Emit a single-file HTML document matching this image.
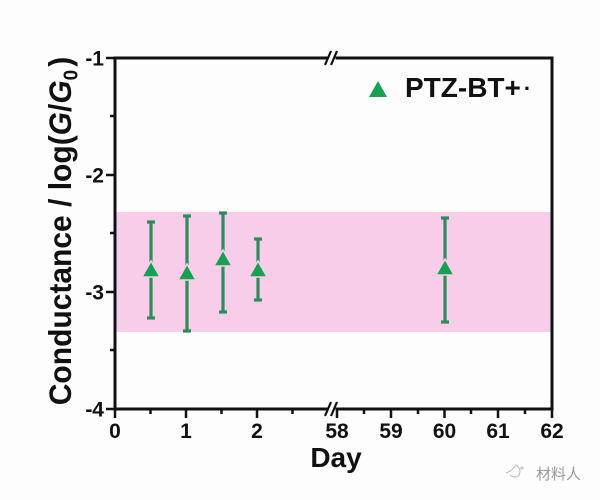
<!DOCTYPE html>
<html>
<head>
<meta charset="utf-8">
<style>
  html,body{margin:0;padding:0;background:#fefdfe;}
  svg{display:block;}
  .tl{font-family:"Liberation Sans",Arial,sans-serif;font-weight:bold;font-size:21px;fill:#111;}
</style>
</head>
<body>
<svg width="600" height="500" viewBox="0 0 600 500" xmlns="http://www.w3.org/2000/svg">
  <rect x="0" y="0" width="600" height="500" fill="#fefdfe"/>
  <!-- pink band -->
  <rect x="116" y="212" width="435" height="120" fill="#f7cdea"/>

  <!-- error bars -->
  <g stroke="#2e8b5a" stroke-width="3.2" fill="none">
    <line x1="151" y1="222" x2="151" y2="318"/><line x1="147" y1="222" x2="155" y2="222"/><line x1="147" y1="318" x2="155" y2="318"/>
    <line x1="187" y1="216" x2="187" y2="331"/><line x1="183" y1="216" x2="191" y2="216"/><line x1="183" y1="331" x2="191" y2="331"/>
    <line x1="223" y1="213" x2="223" y2="312"/><line x1="219" y1="213" x2="227" y2="213"/><line x1="219" y1="312" x2="227" y2="312"/>
    <line x1="258" y1="239" x2="258" y2="300"/><line x1="254" y1="239" x2="262" y2="239"/><line x1="254" y1="300" x2="262" y2="300"/>
    <line x1="445" y1="218" x2="445" y2="322"/><line x1="441" y1="218" x2="449" y2="218"/><line x1="441" y1="322" x2="449" y2="322"/>
  </g>
  <!-- triangles -->
  <g fill="#16a050" stroke="#f7cdea" stroke-width="1.5">
    <polygon points="151,261 160,277 142,277"/>
    <polygon points="187,264 196,280 178,280"/>
    <polygon points="223,250 232,266 214,266"/>
    <polygon points="258,261 267,277 249,277"/>
    <polygon points="445,259 454,275 436,275"/>
  </g>

  <!-- frame -->
  <g stroke="#111" stroke-width="3" fill="none" stroke-linecap="square">
    <line x1="115" y1="58" x2="115" y2="409"/>
    <line x1="552" y1="58" x2="552" y2="409"/>
    <line x1="115" y1="58" x2="327" y2="58"/>
    <line x1="337" y1="58" x2="552" y2="58"/>
    <line x1="115" y1="409" x2="327" y2="409"/>
    <line x1="337" y1="409" x2="552" y2="409"/>
  </g>
  <!-- break marks -->
  <g stroke="#111" stroke-width="2.2">
    <line x1="325" y1="65" x2="331" y2="51"/>
    <line x1="331" y1="65" x2="337" y2="51"/>
    <line x1="325" y1="416" x2="331" y2="402"/>
    <line x1="331" y1="416" x2="337" y2="402"/>
  </g>

  <!-- y ticks -->
  <g stroke="#111" stroke-width="2.5">
    <line x1="106" y1="58" x2="115" y2="58"/>
    <line x1="106" y1="175" x2="115" y2="175"/>
    <line x1="106" y1="292" x2="115" y2="292"/>
    <line x1="106" y1="409" x2="115" y2="409"/>
    <line x1="110" y1="116" x2="115" y2="116"/>
    <line x1="110" y1="233" x2="115" y2="233"/>
    <line x1="110" y1="350" x2="115" y2="350"/>
  </g>
  <!-- x ticks -->
  <g stroke="#111" stroke-width="2.5">
    <line x1="115" y1="409" x2="115" y2="418"/>
    <line x1="186" y1="409" x2="186" y2="418"/>
    <line x1="257" y1="409" x2="257" y2="418"/>
    <line x1="337" y1="409" x2="337" y2="418"/>
    <line x1="391" y1="409" x2="391" y2="418"/>
    <line x1="444.5" y1="409" x2="444.5" y2="418"/>
    <line x1="498" y1="409" x2="498" y2="418"/>
    <line x1="552" y1="409" x2="552" y2="418"/>
    <line x1="150.5" y1="409" x2="150.5" y2="414"/>
    <line x1="221.5" y1="409" x2="221.5" y2="414"/>
    <line x1="292.5" y1="409" x2="292.5" y2="414"/>
    <line x1="364" y1="409" x2="364" y2="414"/>
    <line x1="418" y1="409" x2="418" y2="414"/>
    <line x1="471" y1="409" x2="471" y2="414"/>
    <line x1="525" y1="409" x2="525" y2="414"/>
  </g>

  <!-- y tick labels -->
  <g class="tl" text-anchor="end">
    <text x="104" y="65.5">-1</text>
    <text x="104" y="182.5">-2</text>
    <text x="104" y="299.5">-3</text>
    <text x="104" y="416.5">-4</text>
  </g>
  <!-- x tick labels -->
  <g class="tl" text-anchor="middle">
    <text x="115" y="438">0</text>
    <text x="186" y="438">1</text>
    <text x="257" y="438">2</text>
    <text x="337" y="438">58</text>
    <text x="391" y="438">59</text>
    <text x="444.5" y="438">60</text>
    <text x="498" y="438">61</text>
    <text x="552" y="438">62</text>
  </g>

  <!-- axis titles -->
  <text x="336" y="467" text-anchor="middle" font-family="Liberation Sans, Arial, sans-serif" font-weight="bold" font-size="28" fill="#111">Day</text>
  <text transform="translate(71,231) rotate(-90) scale(1,1.05)" text-anchor="middle" font-family="Liberation Sans, Arial, sans-serif" font-weight="bold" font-size="30" fill="#111">Conductance / log(<tspan font-style="italic">G</tspan>/<tspan font-style="italic">G</tspan><tspan font-size="19" dy="6">0</tspan><tspan dy="-6" dx="3">)</tspan></text>

  <!-- legend -->
  <polygon points="378,81 387,97 369,97" fill="#16a050"/>
  <text x="405" y="97" font-family="Liberation Sans, Arial, sans-serif" font-weight="bold" font-size="28" fill="#111">PTZ-BT+<tspan font-size="22" dx="3" dy="-1">·</tspan></text>

  <!-- watermark -->
  <g stroke="#b8b8b8" stroke-width="1" fill="none">
    <path d="M506 473 q6 -2 10 -8 q6 4 3 10 q-4 4 -9 0"/>
    <circle cx="522" cy="468" r="1"/>
  </g>
  <text x="536" y="479" font-family="Liberation Sans, 'Noto Sans CJK SC', 'WenQuanYi Zen Hei', sans-serif" font-size="15" fill="#9a9a9a">材料人</text>
</svg>
</body>
</html>
